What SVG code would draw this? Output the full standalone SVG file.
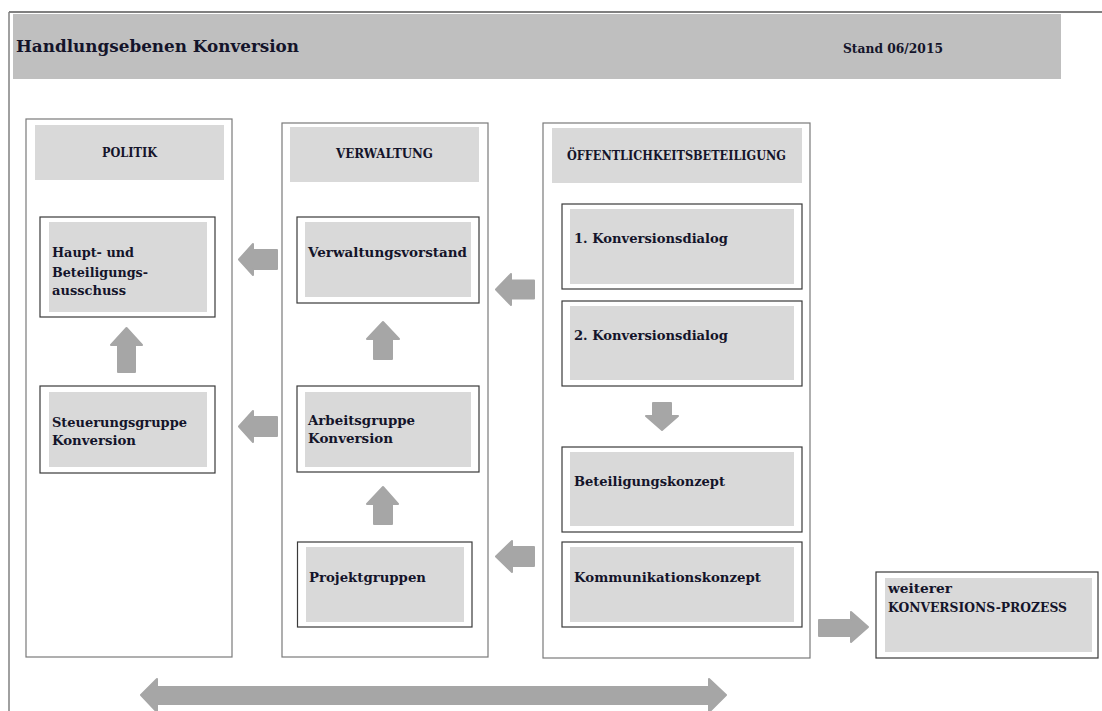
<svg xmlns="http://www.w3.org/2000/svg" width="1102" height="711" viewBox="0 0 1102 711">
<style>
  text { font-family: "DejaVu Serif", "Liberation Serif", serif; font-weight: bold; fill: #14142a; }
  .col { fill: #ffffff; stroke: #7a7a7a; stroke-width: 1.2; }
  .hdr { fill: #d9d9d9; }
  .box { fill: #ffffff; stroke: #3a3a3a; stroke-width: 1.2; }
  .in { fill: #d9d9d9; }
  .arr { fill: #a6a6a6; stroke: #a6a6a6; stroke-width: 2; stroke-linejoin: round; }
  .t { font-size: 13.5px; }
  .h { font-size: 12px; }
</style>
<rect width="1102" height="711" fill="#ffffff"/>
<g id="frame">
  <line x1="9" y1="12" x2="1102" y2="12" stroke="#808080" stroke-width="2"/>
  <line x1="9" y1="12" x2="9" y2="711" stroke="#808080" stroke-width="1.5"/>
  <rect x="13" y="14" width="1048" height="65" fill="#bfbfbf"/>
  <text x="16" y="52" font-size="17.5" textLength="283" lengthAdjust="spacingAndGlyphs">Handlungsebenen Konversion</text>
  <text x="843" y="53" font-size="12" textLength="100" lengthAdjust="spacingAndGlyphs">Stand 06/2015</text>
</g>
<g id="col-politik">
  <rect class="col" x="26" y="119" width="206" height="538"/>
  <rect class="hdr" x="35" y="125" width="189" height="55"/>
  <text class="h" x="129.5" y="157" text-anchor="middle" textLength="55" lengthAdjust="spacingAndGlyphs">POLITIK</text>
</g>
<g id="col-verwaltung">
  <rect class="col" x="282" y="123" width="206" height="534"/>
  <rect class="hdr" x="290" y="127" width="189" height="55"/>
  <text class="h" x="384.5" y="158" text-anchor="middle" textLength="97" lengthAdjust="spacingAndGlyphs">VERWALTUNG</text>
</g>
<g id="col-oeffentlichkeit">
  <rect class="col" x="543" y="123" width="267" height="535"/>
  <rect class="hdr" x="552" y="128" width="250" height="55"/>
  <text class="h" x="676.5" y="160" text-anchor="middle" textLength="219" lengthAdjust="spacingAndGlyphs">ÖFFENTLICHKEITSBETEILIGUNG</text>
</g>
<g id="n-haupt">
  <rect class="box" x="40" y="217" width="175" height="100"/>
  <rect class="in" x="49" y="222" width="158" height="90"/>
  <text class="t" x="52" y="257" textLength="82" lengthAdjust="spacingAndGlyphs">Haupt- und</text>
  <text class="t" x="52" y="277" textLength="96" lengthAdjust="spacingAndGlyphs">Beteiligungs-</text>
  <text class="t" x="52" y="295" textLength="74" lengthAdjust="spacingAndGlyphs">ausschuss</text>
</g>
<g id="n-steuerung">
  <rect class="box" x="40" y="386" width="175" height="87"/>
  <rect class="in" x="49" y="392" width="158" height="75"/>
  <text class="t" x="52" y="427" textLength="135" lengthAdjust="spacingAndGlyphs">Steuerungsgruppe</text>
  <text class="t" x="52" y="445" textLength="84" lengthAdjust="spacingAndGlyphs">Konversion</text>
</g>
<g id="n-vorstand">
  <rect class="box" x="297" y="217" width="182" height="86"/>
  <rect class="in" x="305" y="222" width="166" height="75"/>
  <text class="t" x="308" y="257" textLength="159" lengthAdjust="spacingAndGlyphs">Verwaltungsvorstand</text>
</g>
<g id="n-arbeitsgruppe">
  <rect class="box" x="297" y="386" width="182" height="86"/>
  <rect class="in" x="305" y="392" width="166" height="75"/>
  <text class="t" x="308" y="425" textLength="107" lengthAdjust="spacingAndGlyphs">Arbeitsgruppe</text>
  <text class="t" x="308" y="443" textLength="85" lengthAdjust="spacingAndGlyphs">Konversion</text>
</g>
<g id="n-projektgruppen">
  <rect class="box" x="297.5" y="542" width="174.5" height="85"/>
  <rect class="in" x="306" y="547" width="158" height="75"/>
  <text class="t" x="309" y="582" textLength="117" lengthAdjust="spacingAndGlyphs">Projektgruppen</text>
</g>
<g id="n-dialog1">
  <rect class="box" x="562" y="204" width="240" height="85"/>
  <rect class="in" x="570" y="209" width="224" height="75"/>
  <text class="t" x="574" y="243" textLength="154" lengthAdjust="spacingAndGlyphs">1. Konversionsdialog</text>
</g>
<g id="n-dialog2">
  <rect class="box" x="562" y="301" width="240" height="85"/>
  <rect class="in" x="570" y="306" width="224" height="74"/>
  <text class="t" x="574" y="340" textLength="154" lengthAdjust="spacingAndGlyphs">2. Konversionsdialog</text>
</g>
<g id="n-beteiligungskonzept">
  <rect class="box" x="562" y="447" width="240" height="85"/>
  <rect class="in" x="570" y="452" width="224" height="74"/>
  <text class="t" x="574" y="486" textLength="151" lengthAdjust="spacingAndGlyphs">Beteiligungskonzept</text>
</g>
<g id="n-kommunikationskonzept">
  <rect class="box" x="562" y="542" width="240" height="85"/>
  <rect class="in" x="570" y="547" width="224" height="75"/>
  <text class="t" x="574" y="582" textLength="187" lengthAdjust="spacingAndGlyphs">Kommunikationskonzept</text>
</g>
<g id="n-weiterer">
  <rect class="box" x="876" y="572" width="222" height="86"/>
  <rect class="in" x="885" y="578" width="207" height="74"/>
  <text class="t" x="888" y="593" textLength="64" lengthAdjust="spacingAndGlyphs">weiterer</text>
  <text class="t" x="888" y="612" textLength="179" lengthAdjust="spacingAndGlyphs">KONVERSIONS-PROZESS</text>
</g>
<g id="connectors">
  <polygon class="arr" points="239,259.5 253,244 253,250 277,250 277,269 253,269 253,275"/>
  <polygon class="arr" points="239,426.5 253,411 253,417 277,417 277,436 253,436 253,442"/>
  <polygon class="arr" points="496,289.5 511,274 511,280.5 534,280.5 534,298.5 511,298.5 511,305"/>
  <polygon class="arr" points="496,556.5 512,541 512,547 534,547 534,566 512,566 512,572"/>
  <polygon class="arr" points="126.5,328 142,345 135,345 135,372 118,372 118,345 111,345"/>
  <polygon class="arr" points="383,322 399,339 392,339 392,359 374,359 374,339 367,339"/>
  <polygon class="arr" points="383,487 398,504 392,504 392,524 374,524 374,504 367,504"/>
  <polygon class="arr" points="662,430 678,416 671,416 671,403 653,403 653,416 646,416"/>
  <polygon class="arr" points="868,627 851,612 851,620 819,620 819,636 851,636 851,642"/>
  <polygon class="arr" points="141,695 157,679 157,687 709,687 709,679 726,695 709,712 709,704 157,704 157,712"/>
</g>
</svg>
